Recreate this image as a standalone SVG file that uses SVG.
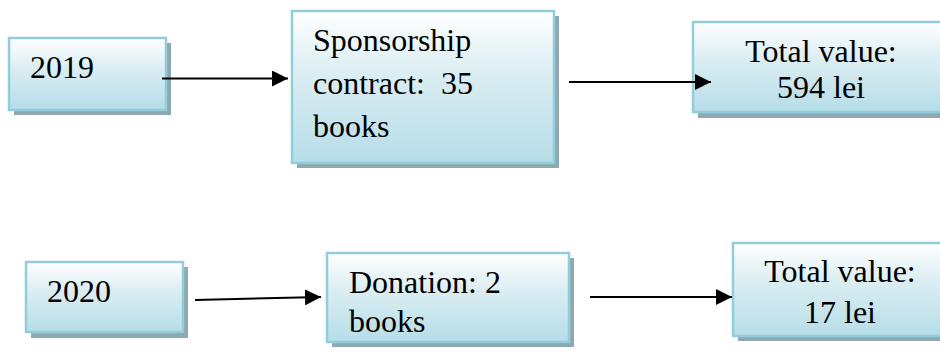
<svg xmlns="http://www.w3.org/2000/svg" width="940" height="353" viewBox="0 0 940 353">
<defs>
<linearGradient id="g" x1="0" y1="0" x2="0" y2="1">
<stop offset="0" stop-color="#ffffff"/>
<stop offset="0.4" stop-color="#dceef3"/>
<stop offset="1" stop-color="#b6dde8"/>
</linearGradient>
<marker id="ah" viewBox="0 0 10 10" refX="10" refY="5" markerWidth="8" markerHeight="8" orient="auto" markerUnits="strokeWidth">
<path d="M0,0 L10,5 L0,10 z" fill="#000"/>
</marker>
</defs>
<style>
.sh{fill:#8ea9b1}
.bx{fill:url(#g);stroke:#92cddc;stroke-width:2.5}
.t{font-family:"Liberation Serif","Times New Roman",serif;font-size:32px;fill:#000}
.c{text-anchor:middle}
.ln{stroke:#000;stroke-width:2;fill:none;marker-end:url(#ah)}
</style>
<rect width="940" height="353" fill="#fff"/>
<g id="n2019">
<rect class="sh" x="14" y="43" width="157" height="72"/>
<rect class="bx" x="9" y="38" width="157" height="72"/>
<text class="t" x="30" y="78">2019</text>
</g>
<g id="nSponsor">
<rect class="sh" x="297" y="16" width="262" height="152"/>
<rect class="bx" x="292" y="11" width="262" height="152"/>
<text class="t" x="313" y="51">Sponsorship</text>
<text class="t" x="313" y="94" xml:space="preserve">contract:  35</text>
<text class="t" x="313" y="137">books</text>
</g>
<g id="nTotal1">
<rect class="sh" x="698" y="28" width="256" height="90"/>
<rect class="bx" x="693" y="22" width="256" height="90"/>
<text class="t c" x="821" y="62">Total value:</text>
<text class="t c" x="821" y="98">594 lei</text>
</g>
<g id="n2020">
<rect class="sh" x="31" y="267" width="157" height="71"/>
<rect class="bx" x="26" y="262" width="157" height="70"/>
<text class="t" x="47" y="302">2020</text>
</g>
<g id="nDonation">
<rect class="sh" x="332" y="258" width="242" height="89"/>
<rect class="bx" x="327" y="253" width="242" height="89"/>
<text class="t" x="349" y="293">Donation: 2</text>
<text class="t" x="349" y="332">books</text>
</g>
<g id="nTotal2">
<rect class="sh" x="738" y="248" width="213" height="93"/>
<rect class="bx" x="733" y="243" width="213" height="93"/>
<text class="t c" x="840" y="282">Total value:</text>
<text class="t c" x="840" y="323">17 lei</text>
</g>
<g id="connectors">
<line class="ln" x1="162" y1="78.5" x2="288" y2="78.5"/>
<line class="ln" x1="569" y1="82" x2="711" y2="82"/>
<line class="ln" x1="195" y1="300" x2="321" y2="297"/>
<line class="ln" x1="590" y1="297" x2="732" y2="297"/>
</g>
</svg>
